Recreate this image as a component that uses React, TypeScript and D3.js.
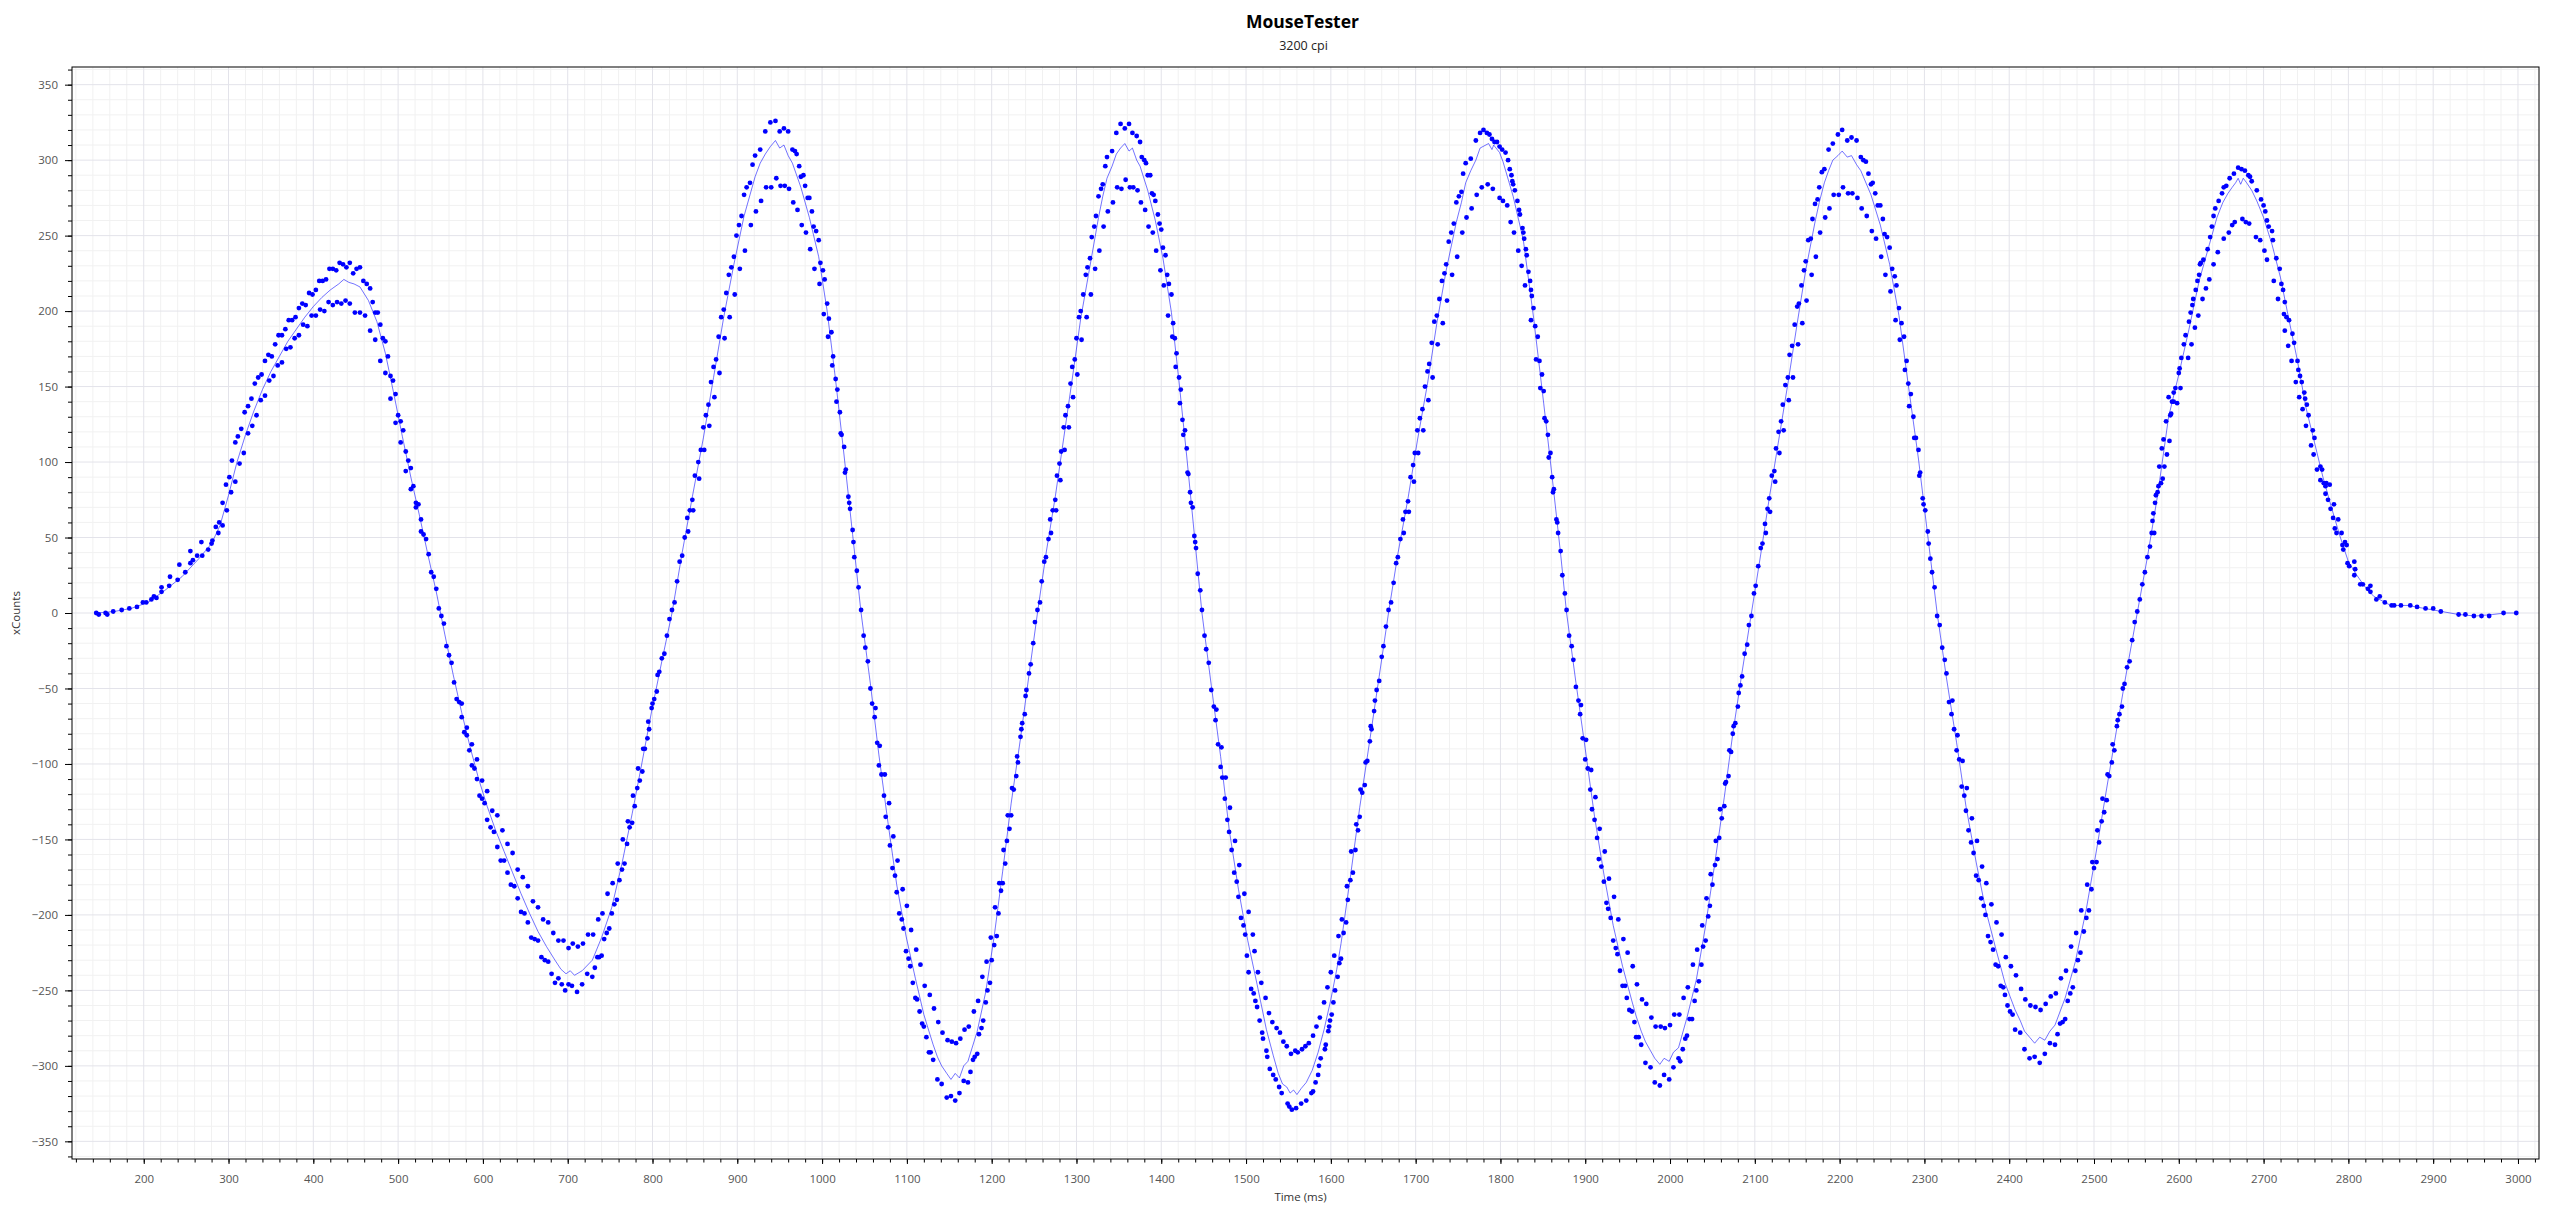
import React from 'react';
import * as d3 from 'd3';

// xCounts per report, main band of points: [time ms, counts]
const mainCounts: [number, number][] = [
  [144, 0], [147, -1], [155, 0], [157, -1], [164, 1], [174, 2], [183, 3], [192, 4], [199, 7], [203, 7], [209, 9],
  [212, 11], [215, 10], [221, 14], [230, 18], [240, 22], [249, 27], [255, 33], [258, 35], [263, 38], [269, 38],
  [276, 42], [281, 48],
  [285, 57], [289, 60], [293, 73], [297, 85], [301, 90], [304, 101], [308, 113], [311, 117], [315, 122], [319, 133],
  [323, 137], [327, 142], [331, 152], [335, 156], [339, 158], [343, 167], [347, 171], [351, 170], [355, 178],
  [359, 184], [363, 184], [367, 188], [371, 194], [375, 194], [379, 196], [383, 202], [387, 205], [391, 204],
  [395, 212], [399, 211], [403, 214], [407, 220], [411, 220], [415, 221], [419, 228], [423, 228], [427, 227],
  [431, 232], [435, 231], [439, 229],
  [443, 232], [447, 225], [451, 228], [455, 229], [459, 220], [463, 218], [467, 215], [470, 206], [473, 199],
  [476, 199], [479, 191], [482, 182], [485, 180], [488, 170], [491, 157], [494, 154], [497, 145], [500, 131],
  [503, 127], [506, 121], [509, 107], [512, 101], [515, 96], [518, 84], [521, 73], [524, 72], [527, 62], [530, 52],
  [533, 49], [536, 39], [539, 27], [542, 24], [545, 16], [548, 3], [551, -2], [554, -7], [557, -22], [560, -28],
  [563, -33], [566, -46], [569, -57], [572, -59], [575, -69], [578, -79], [581, -81], [584, -91], [587, -101],
  [590, -103], [593, -110], [596, -121], [599, -123], [602, -126], [605, -137], [609, -142], [613, -145],
  [617, -155], [621, -164], [625, -164], [629, -172], [633, -180], [637, -181], [641, -189], [645, -198],
  [649, -199], [653, -205], [657, -215], [661, -216], [665, -217], [669, -228], [673, -230], [677, -231],
  [681, -239], [685, -245], [689, -242], [693, -246], [697, -250], [701, -246],
  [705, -247], [711, -251], [717, -246], [723, -239], [729, -241], [732, -235], [735, -228], [737, -228],
  [740, -227], [743, -216], [746, -212], [749, -209], [752, -199], [755, -193], [758, -190], [761, -177],
  [764, -170], [767, -166], [770, -153], [773, -142], [776, -139], [779, -128], [782, -116], [785, -111],
  [788, -105], [791, -90], [794, -83], [796, -77], [799, -63], [802, -57], [805, -52], [808, -39], [811, -30],
  [814, -27], [817, -15], [820, -4],
  [823, 2], [826, 7], [829, 21], [832, 34], [835, 38], [838, 50], [841, 63], [844, 68], [847, 75], [850, 91],
  [854, 100], [857, 108], [860, 123], [863, 131], [866, 138], [869, 153], [872, 163], [875, 168], [878, 183],
  [881, 196], [884, 201], [887, 212], [890, 224], [893, 229], [896, 236], [899, 250], [902, 257], [905, 263],
  [908, 277], [911, 282], [915, 285], [918, 297], [921, 303], [927, 307], [933, 319], [939, 325],
  [945, 326], [950, 319], [955, 321], [960, 319], [965, 307], [968, 306], [970, 304], [973, 296], [975, 289],
  [978, 290], [980, 283], [983, 275], [985, 275], [988, 266], [990, 256], [993, 253], [996, 247], [998, 232],
  [1001, 227], [1003, 221], [1006, 205], [1008, 195], [1011, 186], [1013, 170], [1016, 155], [1018, 148],
  [1021, 133], [1023, 118], [1026, 110], [1028, 95], [1031, 77], [1033, 69], [1036, 55], [1038, 37], [1041, 28],
  [1043, 17],
  [1046, 2], [1049, -15], [1051, -23], [1054, -32], [1057, -50], [1059, -60], [1062, -69], [1065, -86],
  [1067, -101], [1070, -107], [1073, -121], [1075, -135], [1078, -142], [1080, -154], [1083, -169], [1086, -174],
  [1088, -185], [1091, -199], [1094, -203], [1096, -209], [1099, -224], [1102, -229], [1104, -234], [1107, -245],
  [1110, -255], [1112, -256], [1115, -264], [1118, -272], [1120, -274], [1123, -281], [1126, -291], [1128, -291],
  [1131, -296], [1136, -309], [1141, -312], [1147, -321],
  [1152, -320], [1157, -323], [1162, -318], [1167, -310], [1172, -311], [1175, -304], [1178, -296], [1180, -294],
  [1183, -292], [1185, -279], [1188, -275], [1190, -270], [1193, -258], [1195, -250], [1198, -245], [1200, -230],
  [1203, -220], [1206, -214], [1208, -199], [1211, -184], [1213, -179], [1216, -166], [1218, -151], [1221, -143],
  [1223, -134], [1226, -117], [1229, -108], [1231, -99], [1234, -82], [1236, -73], [1239, -67], [1241, -51],
  [1244, -40], [1246, -34], [1249, -20], [1251, -6],
  [1254, 2], [1257, 7], [1259, 21], [1262, 34], [1264, 37], [1267, 49], [1269, 62], [1272, 68], [1275, 75],
  [1277, 91], [1280, 99], [1282, 107], [1285, 123], [1287, 131], [1290, 137], [1293, 152], [1295, 163],
  [1298, 168], [1300, 182], [1303, 196], [1305, 200], [1308, 211], [1311, 224], [1313, 229], [1316, 235],
  [1318, 249], [1321, 256], [1323, 263], [1326, 276], [1329, 281], [1331, 284], [1334, 296], [1336, 302],
  [1342, 306], [1347, 318], [1352, 324],
  [1357, 321], [1362, 324], [1366, 318], [1371, 316], [1375, 312], [1377, 302], [1380, 300], [1382, 298],
  [1384, 290], [1387, 290], [1389, 278], [1391, 277], [1393, 273], [1396, 264], [1398, 258], [1400, 254],
  [1402, 242], [1405, 237], [1407, 224], [1409, 218], [1412, 211], [1414, 192], [1416, 182], [1418, 172],
  [1421, 156], [1423, 148], [1425, 128], [1428, 121], [1430, 109], [1432, 92], [1434, 80], [1437, 70], [1439, 51],
  [1441, 43], [1443, 26], [1446, 15],
  [1448, 2], [1451, -15], [1453, -24], [1456, -33], [1459, -51], [1462, -62], [1464, -71], [1467, -87],
  [1470, -102], [1472, -109], [1475, -123], [1478, -137], [1480, -145], [1483, -157], [1486, -172], [1489, -178],
  [1491, -188], [1494, -202], [1497, -207], [1499, -213], [1501, -227], [1503, -238], [1506, -249], [1509, -252],
  [1511, -257], [1513, -261], [1516, -270], [1519, -278], [1520, -282], [1524, -290], [1525, -294], [1528, -302],
  [1532, -306], [1535, -309], [1539, -314], [1542, -318], [1549, -325], [1551, -327], [1554, -329], [1559, -328],
  [1565, -325], [1571, -323], [1577, -318], [1579, -317], [1582, -311], [1585, -306], [1586, -300], [1588, -295],
  [1593, -289], [1594, -286], [1597, -277], [1598, -274], [1599, -270], [1601, -266], [1603, -258], [1605, -250],
  [1608, -241], [1610, -232],
  [1612, -229], [1615, -212], [1618, -205], [1620, -190], [1623, -177], [1626, -172], [1629, -157], [1632, -144],
  [1634, -135], [1637, -119], [1640, -114], [1643, -98], [1646, -85], [1648, -77], [1651, -65], [1654, -51],
  [1657, -45], [1660, -29], [1662, -22], [1665, -9],
  [1668, 2], [1671, 7], [1674, 20], [1677, 33], [1679, 37], [1682, 49], [1685, 62], [1688, 67], [1691, 74],
  [1694, 90], [1697, 98], [1699, 106], [1702, 121], [1705, 129], [1708, 135], [1711, 150], [1714, 160],
  [1716, 165], [1719, 179], [1722, 193], [1725, 197], [1728, 208], [1731, 220], [1734, 225], [1736, 231],
  [1739, 246], [1742, 252], [1745, 258], [1748, 272], [1751, 276], [1754, 279], [1756, 291], [1759, 298],
  [1765, 301], [1771, 313],
  [1776, 318], [1780, 320], [1784, 318], [1787, 317], [1790, 314], [1793, 312], [1796, 312], [1799, 309],
  [1802, 307], [1806, 305], [1809, 300], [1811, 294], [1813, 290], [1814, 286], [1815, 284], [1817, 280],
  [1820, 273], [1822, 267], [1823, 264], [1826, 255], [1827, 252], [1828, 248], [1830, 241], [1831, 237],
  [1833, 226], [1835, 220], [1836, 214], [1837, 210], [1839, 202],
  [1841, 190], [1844, 183], [1846, 167], [1849, 158], [1851, 147], [1854, 127], [1856, 118], [1859, 106],
  [1861, 90], [1863, 82], [1866, 62], [1868, 53], [1871, 41], [1873, 25], [1876, 13],
  [1878, 2], [1881, -15], [1884, -22], [1886, -31], [1889, -49], [1892, -58], [1894, -67], [1897, -83],
  [1900, -97], [1903, -103], [1906, -117], [1908, -130], [1911, -137], [1914, -149], [1916, -163], [1919, -168],
  [1922, -178], [1925, -192], [1927, -196], [1930, -202], [1933, -217], [1936, -222], [1938, -226], [1941, -237],
  [1944, -247], [1947, -247], [1949, -255], [1952, -263], [1955, -264], [1958, -271], [1960, -281], [1963, -281],
  [1966, -286], [1971, -298], [1977, -301], [1982, -311],
  [1988, -313], [1993, -306], [1999, -309], [2004, -301], [2010, -295], [2012, -297], [2015, -289], [2018, -282],
  [2020, -280], [2023, -269], [2026, -269], [2029, -257], [2031, -250], [2034, -244], [2037, -233], [2039, -221],
  [2042, -217], [2045, -201], [2047, -194], [2050, -180], [2053, -167], [2056, -163], [2058, -149], [2061, -136],
  [2064, -128], [2066, -112], [2069, -108], [2072, -92], [2074, -80], [2077, -73], [2080, -62], [2083, -48],
  [2085, -42], [2088, -27], [2091, -21], [2093, -8],
  [2096, -2], [2099, 13], [2101, 18], [2104, 31], [2107, 43], [2109, 46], [2112, 59], [2115, 69], [2117, 76],
  [2120, 91], [2123, 94], [2125, 109], [2128, 120], [2131, 127], [2133, 138], [2136, 151], [2139, 156],
  [2141, 171], [2144, 177], [2147, 191], [2150, 203], [2152, 205], [2155, 217], [2158, 227], [2160, 233],
  [2163, 247], [2166, 248], [2168, 261], [2171, 271], [2174, 274], [2176, 282], [2179, 292], [2182, 294],
  [2187, 307], [2192, 311], [2198, 317],
  [2203, 320], [2209, 313], [2214, 315], [2220, 313], [2225, 302], [2228, 300], [2231, 299], [2234, 291],
  [2237, 284], [2239, 285], [2242, 278], [2245, 270], [2248, 270], [2251, 261], [2253, 251], [2256, 249],
  [2259, 242], [2262, 228], [2265, 223], [2267, 217], [2270, 202], [2273, 192], [2276, 183], [2279, 167],
  [2281, 152], [2284, 145], [2287, 130], [2290, 116], [2293, 108], [2295, 93], [2298, 76], [2301, 68], [2304, 54],
  [2307, 36], [2309, 27], [2312, 17],
  [2315, -2], [2318, -8], [2321, -23], [2324, -31], [2326, -40], [2329, -59], [2332, -67], [2335, -77],
  [2338, -91], [2341, -97], [2344, -115], [2347, -121], [2349, -131], [2352, -144], [2355, -152], [2358, -159],
  [2361, -174], [2364, -177], [2367, -189], [2370, -194], [2372, -200], [2375, -214], [2378, -218], [2381, -223],
  [2384, -233], [2387, -234], [2390, -247], [2393, -248], [2395, -253], [2398, -260], [2401, -264], [2404, -266],
  [2407, -276], [2413, -278], [2418, -289], [2424, -295],
  [2430, -294], [2436, -298], [2442, -292], [2448, -285], [2454, -286], [2457, -279], [2460, -272], [2463, -271],
  [2466, -269], [2469, -257], [2472, -252], [2475, -248], [2478, -237], [2481, -230], [2484, -225], [2488, -211],
  [2491, -202], [2494, -197], [2497, -183], [2500, -169], [2503, -165], [2506, -152], [2509, -138], [2512, -132],
  [2515, -124], [2518, -108], [2521, -99], [2524, -91], [2527, -75], [2530, -67], [2533, -62], [2536, -47],
  [2539, -36], [2542, -32], [2545, -18], [2548, -6],
  [2551, 1], [2554, 9], [2557, 19], [2560, 27], [2563, 37], [2566, 44], [2568, 53], [2569, 61], [2570, 66],
  [2572, 73], [2573, 78], [2575, 80], [2576, 84], [2577, 97], [2580, 109], [2582, 115], [2585, 127], [2588, 143],
  [2592, 140], [2594, 146], [2596, 149], [2600, 159], [2601, 162], [2603, 169], [2606, 178], [2608, 184],
  [2612, 193], [2614, 199], [2616, 204], [2617, 208], [2620, 214], [2622, 220], [2624, 224], [2625, 231],
  [2626, 232], [2629, 234], [2634, 241], [2637, 249], [2639, 256], [2641, 263], [2643, 268], [2647, 273],
  [2651, 278], [2653, 282], [2656, 283], [2660, 288], [2665, 291], [2670, 295], [2674, 294], [2678, 293],
  [2682, 290], [2684, 289], [2686, 286], [2692, 280], [2697, 274], [2700, 270], [2702, 266], [2704, 260],
  [2706, 256], [2710, 253], [2711, 247], [2715, 235], [2719, 228], [2721, 218], [2723, 214], [2725, 206],
  [2727, 196], [2730, 194], [2734, 185], [2736, 179], [2740, 167], [2741, 161], [2743, 157], [2745, 153],
  [2748, 146], [2749, 142], [2751, 138], [2753, 131], [2758, 121], [2760, 116], [2763, 95], [2767, 97],
  [2767, 88], [2769, 95], [2771, 86], [2773, 84], [2773, 79], [2774, 86], [2776, 75], [2778, 85], [2779, 69],
  [2782, 63], [2783, 72], [2784, 56], [2786, 53], [2788, 62], [2792, 53], [2793, 45], [2794, 42], [2796, 47],
  [2798, 45], [2799, 33], [2801, 31], [2807, 34], [2807, 25], [2808, 29], [2814, 19], [2817, 19], [2823, 16],
  [2826, 18], [2826, 14], [2833, 9], [2837, 11], [2843, 7], [2851, 5], [2854, 5], [2862, 5], [2873, 5],
  [2881, 4], [2891, 3], [2900, 3], [2909, 1], [2930, -1], [2938, -1], [2948, -2], [2957, -2], [2966, -2],
  [2983, 0], [2998, 0],
];

// second, lower-magnitude band of points seen around every extreme
const altCounts: [number, number][] = [
  [221, 17], [231, 24], [242, 32], [255, 41], [268, 47], [280, 46],
  [288, 53], [293, 58], [298, 68], [303, 80], [308, 87], [313, 99], [318, 106], [323, 119], [328, 124],
  [333, 131], [338, 141], [343, 144], [348, 154], [353, 157], [358, 164], [363, 166], [368, 175], [373, 176],
  [378, 182], [383, 184], [388, 191], [393, 190], [398, 197], [403, 197], [408, 201], [413, 200], [418, 206],
  [423, 204], [428, 206], [433, 205], [438, 207],
  [443, 205], [449, 199], [455, 199], [461, 197], [467, 187], [473, 181], [479, 167], [485, 159], [491, 142],
  [497, 126], [503, 113], [509, 94], [515, 82], [521, 70], [527, 54],
  [575, -60], [581, -76], [587, -87], [593, -97], [599, -111], [605, -118], [611, -131], [617, -134],
  [623, -144], [629, -153], [635, -159], [641, -170], [647, -175], [653, -181], [659, -191], [665, -195],
  [671, -203], [677, -205], [683, -212], [689, -217], [695, -217], [701, -222],
  [706, -219], [712, -221], [718, -219], [724, -213], [730, -213], [736, -203], [741, -199], [747, -186],
  [753, -179], [759, -166], [765, -150], [771, -138], [777, -121], [783, -103], [789, -90], [795, -72],
  [800, -60], [806, -41],
  [842, 54], [848, 68], [855, 89], [861, 108], [867, 124], [873, 143], [879, 159], [885, 182], [891, 196],
  [897, 211], [903, 228], [909, 240], [916, 257], [922, 266], [928, 273], [934, 282], [940, 282],
  [946, 288], [951, 283], [956, 283], [961, 281], [966, 272], [971, 267], [976, 257], [981, 252], [986, 241],
  [991, 228], [997, 218], [1002, 198], [1007, 183], [1012, 164], [1017, 140], [1022, 119], [1027, 93],
  [1032, 73], [1037, 47],
  [1063, -63], [1068, -88], [1074, -107], [1079, -126], [1084, -148], [1089, -164], [1095, -183], [1100, -194],
  [1105, -210], [1111, -223], [1116, -233], [1121, -247], [1127, -253], [1132, -262], [1137, -271], [1142, -278],
  [1148, -283],
  [1153, -284], [1158, -285], [1163, -282], [1168, -276], [1173, -274], [1179, -264], [1184, -257], [1189, -241],
  [1194, -231], [1199, -215], [1204, -195], [1209, -179], [1214, -157], [1219, -134], [1224, -116], [1230, -95],
  [1235, -77], [1240, -55],
  [1270, 53], [1276, 68], [1281, 88], [1286, 108], [1291, 123], [1296, 143], [1301, 158], [1306, 181],
  [1312, 196], [1317, 211], [1322, 228], [1327, 240], [1332, 256], [1337, 266], [1343, 272], [1348, 282],
  [1353, 281],
  [1358, 287], [1363, 282], [1367, 282], [1372, 280], [1376, 272], [1381, 267], [1385, 256], [1390, 252],
  [1394, 240], [1399, 227], [1403, 217], [1408, 197], [1413, 183], [1417, 163], [1422, 139], [1426, 118],
  [1431, 93], [1435, 73], [1440, 47],
  [1465, -64], [1471, -89], [1476, -109], [1481, -129], [1487, -151], [1492, -167], [1498, -186], [1503, -198],
  [1508, -213], [1510, -224], [1514, -238], [1518, -245], [1523, -255], [1527, -265], [1531, -271], [1536, -275],
  [1540, -278], [1544, -284], [1548, -287], [1553, -292], [1558, -290], [1561, -291], [1566, -289], [1570, -287],
  [1574, -285], [1579, -280], [1583, -274], [1587, -268], [1592, -258], [1596, -248], [1600, -238], [1604, -227],
  [1609, -214], [1613, -203], [1619, -181], [1624, -158], [1630, -140], [1635, -117], [1641, -99], [1647, -75],
  [1652, -58],
  [1686, 53], [1692, 67], [1698, 87], [1703, 106], [1709, 121], [1715, 141], [1720, 156], [1726, 178],
  [1732, 192], [1737, 207], [1743, 224], [1749, 236], [1755, 252], [1760, 262], [1766, 268], [1772, 277],
  [1778, 282], [1785, 284], [1791, 281], [1799, 275], [1803, 273], [1808, 270], [1812, 259], [1816, 252],
  [1821, 240], [1825, 230], [1829, 217], [1836, 194], [1842, 168], [1847, 149], [1852, 129], [1857, 103],
  [1862, 80], [1867, 60],
  [1895, -61], [1901, -84], [1907, -104], [1912, -122], [1917, -143], [1923, -158], [1928, -176], [1934, -188],
  [1939, -203], [1945, -216], [1950, -225], [1956, -234], [1961, -246], [1967, -256], [1972, -259], [1978, -268],
  [1983, -274],
  [1989, -274], [1994, -275], [2000, -273], [2005, -266], [2011, -266], [2016, -255], [2021, -248], [2027, -233],
  [2032, -223], [2038, -207], [2043, -189], [2048, -173], [2054, -151], [2059, -130], [2065, -113], [2070, -91],
  [2075, -75], [2081, -53],
  [2113, 53], [2118, 67], [2124, 87], [2129, 106], [2134, 121], [2140, 141], [2145, 156], [2151, 178],
  [2156, 192], [2161, 207], [2167, 224], [2172, 236], [2177, 252], [2183, 262], [2188, 268], [2193, 277],
  [2199, 277],
  [2204, 282], [2210, 278], [2215, 278], [2221, 275], [2226, 268], [2232, 263], [2238, 253], [2243, 248],
  [2249, 236], [2254, 224], [2260, 213], [2266, 194], [2271, 181], [2277, 161], [2282, 137], [2288, 116],
  [2294, 91], [2299, 72], [2305, 46],
  [2333, -58], [2339, -81], [2345, -98], [2350, -116], [2356, -136], [2362, -151], [2368, -168], [2373, -179],
  [2379, -193], [2385, -205], [2391, -213], [2396, -228], [2402, -234], [2408, -240], [2414, -249], [2419, -256],
  [2425, -260],
  [2431, -261], [2437, -263], [2443, -259], [2449, -254], [2455, -252], [2461, -242], [2467, -237], [2473, -221],
  [2479, -212], [2485, -197], [2492, -180], [2498, -165], [2504, -144], [2510, -123], [2516, -107], [2522, -87],
  [2528, -71], [2534, -50],
  [2571, 53], [2579, 86], [2581, 89], [2583, 97], [2586, 105], [2589, 114], [2590, 131], [2591, 132],
  [2594, 140], [2598, 139], [2602, 149], [2611, 169], [2615, 178], [2619, 189], [2623, 197], [2628, 208],
  [2632, 215], [2636, 221], [2641, 231], [2646, 239], [2653, 248], [2659, 252], [2663, 257], [2666, 259],
  [2675, 261], [2679, 259], [2683, 258], [2691, 249], [2696, 247], [2701, 240], [2704, 234], [2712, 220],
  [2717, 208], [2724, 198], [2725, 187], [2729, 177], [2733, 167], [2738, 153], [2742, 143], [2746, 135],
  [2750, 124], [2756, 111], [2759, 105],
];

// thin line running through the middle of the two bands
const trendCounts: [number, number][] = [
  [145, 0], [165, 1], [185, 3], [205, 7], [225, 15], [245, 24], [265, 36], [280, 46], [290, 58], [300, 78],
  [310, 100], [320, 118], [330, 134], [340, 148], [350, 160], [360, 170], [370, 180], [380, 188], [390, 196],
  [400, 203], [410, 209], [420, 214], [430, 218], [436, 221], [442, 219], [448, 218], [455, 216], [465, 207],
  [475, 193], [485, 172], [495, 145], [505, 117], [515, 90], [525, 65], [535, 39], [545, 14], [555, -14],
  [565, -41], [575, -66], [585, -89], [595, -110], [605, -128], [615, -144], [625, -158], [635, -172],
  [645, -186], [655, -199], [665, -211], [675, -221], [685, -230], [692, -236], [698, -239], [703, -237],
  [708, -240], [717, -237], [729, -230], [740, -215], [752, -195], [764, -166], [776, -133], [788, -98],
  [799, -65], [811, -32], [823, 0], [835, 40], [847, 77], [860, 116], [872, 156], [884, 196], [896, 231],
  [908, 263], [915, 277], [921, 289], [927, 298], [933, 304], [939, 309], [945, 313], [950, 308], [955, 310],
  [960, 303], [965, 298], [975, 282], [985, 262], [996, 236], [1006, 200], [1016, 154], [1026, 104], [1036, 52],
  [1046, 0], [1057, -47], [1067, -94], [1078, -140], [1088, -180], [1099, -214], [1110, -242], [1120, -266],
  [1126, -277], [1131, -286], [1136, -294], [1141, -300], [1147, -305], [1152, -309], [1157, -305], [1162, -308],
  [1167, -300], [1172, -297], [1183, -277], [1193, -251], [1203, -214], [1213, -171], [1223, -126], [1234, -83],
  [1244, -41], [1254, 0], [1264, 39], [1275, 77], [1285, 116], [1295, 155], [1305, 195], [1316, 230],
  [1326, 262], [1331, 276], [1336, 288], [1342, 296], [1347, 304], [1352, 308], [1357, 311], [1362, 306],
  [1366, 308], [1371, 300], [1375, 296], [1384, 280], [1393, 260], [1402, 235], [1412, 199], [1421, 153],
  [1430, 104], [1439, 52], [1448, 0], [1459, -48], [1470, -95], [1480, -143], [1491, -183], [1502, -217],
  [1513, -246], [1524, -276], [1532, -293], [1538, -305], [1543, -312], [1548, -314], [1552, -318], [1556, -316],
  [1560, -319], [1565, -315], [1571, -311], [1578, -303], [1585, -291], [1592, -276], [1600, -256], [1607, -236],
  [1612, -219], [1623, -175], [1634, -129], [1646, -84], [1657, -42], [1668, 0], [1679, 39], [1691, 76],
  [1702, 114], [1714, 152], [1725, 192], [1736, 227], [1748, 259], [1754, 272], [1759, 285], [1765, 293],
  [1771, 300], [1776, 308], [1786, 311], [1790, 307], [1792, 310], [1799, 305], [1803, 299], [1815, 276],
  [1827, 247], [1839, 196], [1851, 139], [1861, 90], [1871, 39], [1878, 0], [1889, -46], [1900, -90],
  [1911, -135], [1922, -173], [1933, -207], [1944, -234], [1955, -257], [1960, -267], [1966, -277], [1971, -284],
  [1977, -290], [1982, -295], [1988, -299], [1993, -295], [1999, -297], [2004, -291], [2010, -288], [2020, -268],
  [2031, -243], [2042, -207], [2053, -165], [2064, -122], [2074, -80], [2085, -39], [2096, 0], [2107, 39],
  [2117, 76], [2128, 114], [2139, 152], [2150, 192], [2160, 227], [2171, 259], [2176, 272], [2182, 285],
  [2187, 293], [2192, 300], [2198, 303], [2203, 306], [2209, 302], [2214, 303], [2220, 297], [2225, 293],
  [2237, 277], [2248, 257], [2259, 231], [2270, 197], [2281, 151], [2293, 102], [2304, 51], [2315, 0],
  [2326, -43], [2338, -86], [2349, -128], [2361, -165], [2372, -196], [2384, -222], [2395, -245], [2401, -254],
  [2407, -263], [2413, -270], [2418, -277], [2424, -281], [2430, -285], [2436, -281], [2442, -283], [2448, -277],
  [2454, -273], [2466, -255], [2478, -231], [2491, -196], [2503, -157], [2515, -116], [2527, -76], [2539, -37],
  [2551, 0], [2563, 37], [2575, 78], [2588, 130], [2600, 158], [2612, 188], [2624, 220], [2636, 244],
  [2645, 262], [2652, 272], [2658, 278], [2663, 282], [2667, 285], [2670, 288], [2673, 284], [2676, 288],
  [2680, 285], [2686, 280], [2692, 273], [2700, 262], [2710, 244], [2720, 222], [2730, 194], [2740, 167],
  [2750, 136], [2760, 113], [2770, 90], [2780, 70], [2790, 51], [2800, 34], [2810, 25], [2820, 17], [2830, 11],
  [2840, 8], [2850, 5], [2870, 5], [2890, 3], [2910, 1], [2930, -1], [2950, -2], [2970, -1], [2985, 0],
  [2998, 0],
];

const xTicks = [200, 300, 400, 500, 600, 700, 800, 900, 1000, 1100, 1200, 1300, 1400, 1500, 1600, 1700,
  1800, 1900, 2000, 2100, 2200, 2300, 2400, 2500, 2600, 2700, 2800, 2900, 3000];
const yTicks = [-350, -300, -250, -200, -150, -100, -50, 0, 50, 100, 150, 200, 250, 300, 350];

const chartTitle = 'MouseTester';
const chartSubtitle = '3200 cpi';
const xTitle = 'Time (ms)';
const yTitle = 'xCounts';

const timeDomain = [115.4, 3024.8];
const countDomain = [-361.7, 361.7];

const sizing = {
  width: 2560,
  height: 1220,
  left: 72,
  right: 21,
  top: 67,
  bottom: 61,
};

const font = "'Segoe UI', 'Open Sans', sans-serif";

export default class App extends React.Component {
  svgRef = React.createRef<SVGSVGElement>();

  setupDom(): void {
    const svg = d3.select(this.svgRef.current);
    svg.selectAll('*').remove();

    const plotRight = sizing.width - sizing.right;
    const plotBottom = sizing.height - sizing.bottom;

    const xScale = d3.scaleLinear().domain(timeDomain).range([sizing.left, plotRight]);
    const yScale = d3.scaleLinear().domain(countDomain).range([plotBottom, sizing.top]);

    const xMinor = d3.range(120, 3021, 20);
    const yMinor = d3.range(-360, 361, 10);

    // grid
    const grid = svg.append('g');
    grid.selectAll('line.xminor')
      .data(xMinor.filter(d => d % 100 !== 0))
      .enter().append('line')
      .attr('x1', d => xScale(d)).attr('x2', d => xScale(d))
      .attr('y1', sizing.top).attr('y2', plotBottom)
      .attr('stroke', '#f1f1f1');
    grid.selectAll('line.yminor')
      .data(yMinor.filter(d => d % 50 !== 0))
      .enter().append('line')
      .attr('x1', sizing.left).attr('x2', plotRight)
      .attr('y1', d => yScale(d)).attr('y2', d => yScale(d))
      .attr('stroke', '#f1f1f1');
    grid.selectAll('line.xmajor')
      .data(xTicks)
      .enter().append('line')
      .attr('x1', d => xScale(d)).attr('x2', d => xScale(d))
      .attr('y1', sizing.top).attr('y2', plotBottom)
      .attr('stroke', '#e3e3ea');
    grid.selectAll('line.ymajor')
      .data(yTicks)
      .enter().append('line')
      .attr('x1', sizing.left).attr('x2', plotRight)
      .attr('y1', d => yScale(d)).attr('y2', d => yScale(d))
      .attr('stroke', '#e3e3ea');

    // point bands
    const dots = svg.append('g').attr('fill', '#0000ff');
    dots.selectAll('circle.main')
      .data(mainCounts)
      .enter().append('circle')
      .attr('cx', d => xScale(d[0]))
      .attr('cy', d => yScale(d[1]))
      .attr('r', 2.4);
    dots.selectAll('circle.alt')
      .data(altCounts)
      .enter().append('circle')
      .attr('cx', d => xScale(d[0]))
      .attr('cy', d => yScale(d[1]))
      .attr('r', 2.4);

    // trend line
    const line = d3.line<[number, number]>()
      .x(d => xScale(d[0]))
      .y(d => yScale(d[1]));

    svg.append('path')
      .attr('d', line(trendCounts) as string)
      .attr('fill', 'none')
      .attr('stroke', '#0000ff')
      .attr('stroke-opacity', 0.55)
      .attr('stroke-width', 1);

    // frame
    svg.append('rect')
      .attr('x', sizing.left).attr('y', sizing.top)
      .attr('width', plotRight - sizing.left).attr('height', plotBottom - sizing.top)
      .attr('fill', 'none')
      .attr('stroke', '#000')
      .attr('stroke-width', 1);

    // axes
    const styleAxis = (g: any) => {
      g.select('.domain').remove();
      g.selectAll('line').attr('stroke', '#000');
      g.selectAll('text').attr('fill', '#555').attr('font-family', font).attr('font-size', 11.5);
    };

    svg.append('g')
      .attr('transform', `translate(0, ${plotBottom})`)
      .call(d3.axisBottom(xScale).tickValues(xMinor).tickSize(3.5).tickFormat(() => ''))
      .call(styleAxis);
    svg.append('g')
      .attr('transform', `translate(0, ${plotBottom})`)
      .call(d3.axisBottom(xScale).tickValues(xTicks).tickSize(5).tickPadding(11).tickFormat(d3.format('d')))
      .call(styleAxis);
    svg.append('g')
      .attr('transform', `translate(${sizing.left}, 0)`)
      .call(d3.axisLeft(yScale).tickValues(yMinor).tickSize(4).tickFormat(() => ''))
      .call(styleAxis);
    svg.append('g')
      .attr('transform', `translate(${sizing.left}, 0)`)
      .call(d3.axisLeft(yScale).tickValues(yTicks).tickSize(7).tickPadding(7).tickFormat(d3.format('d')))
      .call(styleAxis);

    // titles
    const midX = (sizing.left + plotRight) / 2;
    svg.append('text')
      .attr('x', midX - 3).attr('y', 28)
      .attr('text-anchor', 'middle')
      .attr('font-family', font).attr('font-weight', 'bold').attr('font-size', 17.5)
      .text(chartTitle);
    svg.append('text')
      .attr('x', midX - 2).attr('y', 50)
      .attr('text-anchor', 'middle')
      .attr('font-family', font).attr('font-size', 12.5).attr('fill', '#222')
      .text(chartSubtitle);
    svg.append('text')
      .attr('x', midX - 5).attr('y', 1201)
      .attr('text-anchor', 'middle')
      .attr('font-family', font).attr('font-size', 11.5).attr('fill', '#333')
      .text(xTitle);
    svg.append('text')
      .attr('transform', `translate(20, ${yScale(0)}) rotate(-90)`)
      .attr('text-anchor', 'middle')
      .attr('font-family', font).attr('font-size', 11.5).attr('fill', '#333')
      .text(yTitle);
  }

  componentDidMount(): void {
    this.setupDom();
  }

  render(): React.ReactNode {
    return (
      <svg
        ref={this.svgRef}
        width={sizing.width}
        height={sizing.height}
        style={{ position: 'absolute', left: 0, top: 0, background: '#fff' }}
      />
    );
  }
}
